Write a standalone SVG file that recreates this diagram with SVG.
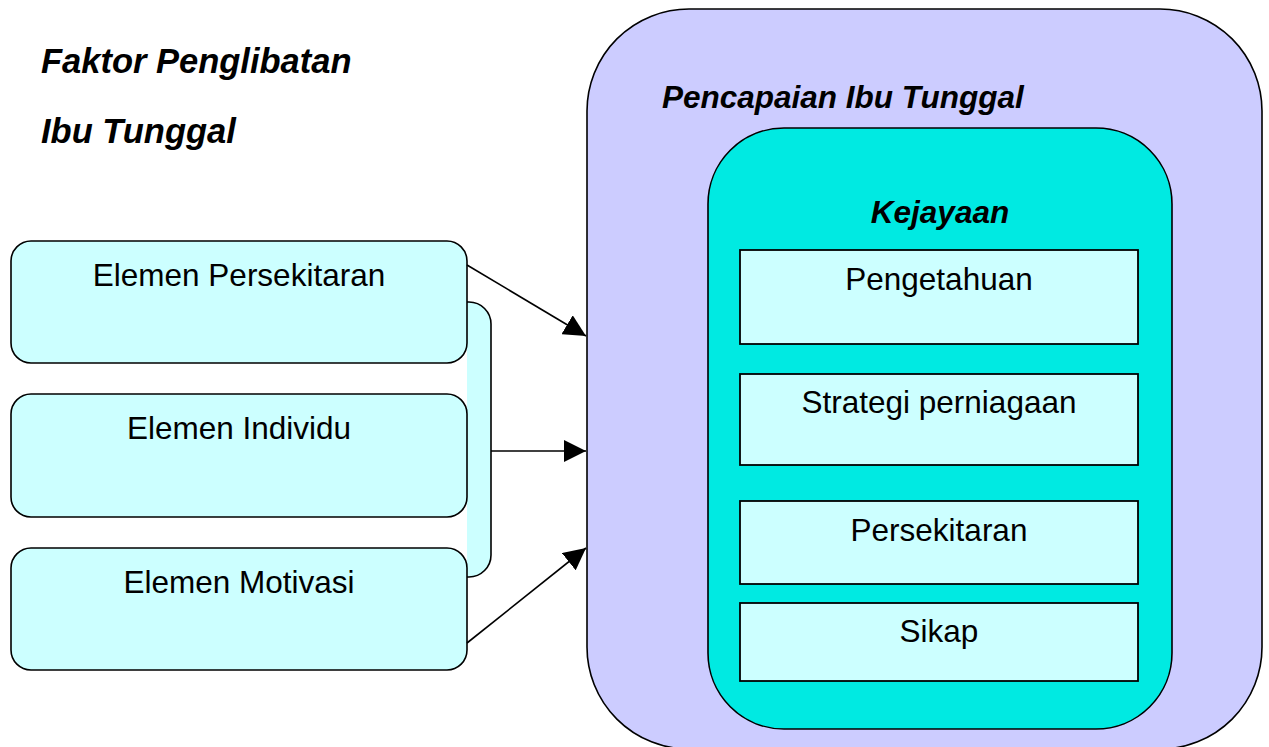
<svg xmlns="http://www.w3.org/2000/svg" width="1269" height="747" viewBox="0 0 1269 747">
<style>
  .head{font-family:"Liberation Sans",Arial,sans-serif;font-weight:bold;font-style:italic;fill:#000}
  .lbl{font-family:"Liberation Sans",Arial,sans-serif;font-size:31.5px;fill:#000;text-anchor:middle}
  .lbox{fill:#CCFFFF;stroke:#000;stroke-width:1.6}
  .ibox{fill:#CCFFFF;stroke:#000;stroke-width:1.8}
  .conn{stroke:#000;stroke-width:1.6;fill:none}
</style>
<defs>
  <marker id="arr" markerUnits="userSpaceOnUse" markerWidth="22" markerHeight="22" viewBox="0 0 20 20" refX="20" refY="10" orient="auto">
    <path d="M0,0 L20,10 L0,20 Z" fill="#000"/>
  </marker>
</defs>
<rect width="1269" height="747" fill="#fff"/>

<g id="title">
  <text class="head" x="41" y="73" font-size="34.5">Faktor Penglibatan</text>
  <text class="head" x="41" y="143" font-size="34.5">Ibu Tunggal</text>
</g>

<g id="bracket">
  <path d="M467,302 H469 A22,22 0 0 1 491,324 V555 A22,22 0 0 1 469,577 H467" fill="#CCFFFF" stroke="#000" stroke-width="1.6"/>
</g>

<g id="node-persekitaran">
  <rect class="lbox" x="11" y="241" width="456" height="122" rx="20"/>
  <text class="lbl" x="239" y="286">Elemen Persekitaran</text>
</g>
<g id="node-individu">
  <rect class="lbox" x="11" y="394" width="456" height="123" rx="20"/>
  <text class="lbl" x="239" y="439">Elemen Individu</text>
</g>
<g id="node-motivasi">
  <rect class="lbox" x="11" y="548" width="456" height="122" rx="20"/>
  <text class="lbl" x="239" y="593">Elemen Motivasi</text>
</g>

<g id="node-pencapaian">
  <rect x="587" y="9" width="675" height="740" rx="102" fill="#CCCCFF" stroke="#000" stroke-width="1.6"/>
  <text class="head" x="662" y="108" font-size="31.5">Pencapaian Ibu Tunggal</text>
</g>

<g id="node-kejayaan">
  <rect x="708" y="128" width="464" height="601" rx="76" fill="#00EAE2" stroke="#000" stroke-width="1.6"/>
  <text class="head" x="940" y="223" font-size="31.5" text-anchor="middle">Kejayaan</text>
</g>

<g id="node-pengetahuan">
  <rect class="ibox" x="740" y="250" width="398" height="94"/>
  <text class="lbl" x="939" y="290">Pengetahuan</text>
</g>
<g id="node-strategi">
  <rect class="ibox" x="740" y="374" width="398" height="91"/>
  <text class="lbl" x="939" y="413">Strategi perniagaan</text>
</g>
<g id="node-persekitaran2">
  <rect class="ibox" x="740" y="501" width="398" height="83"/>
  <text class="lbl" x="939" y="541">Persekitaran</text>
</g>
<g id="node-sikap">
  <rect class="ibox" x="740" y="603" width="398" height="78"/>
  <text class="lbl" x="939" y="642">Sikap</text>
</g>

<g id="connectors">
  <line class="conn" x1="467" y1="265" x2="586" y2="336" marker-end="url(#arr)"/>
  <line class="conn" x1="491" y1="451" x2="586" y2="451" marker-end="url(#arr)"/>
  <line class="conn" x1="467" y1="643" x2="586" y2="548" marker-end="url(#arr)"/>
</g>
</svg>
